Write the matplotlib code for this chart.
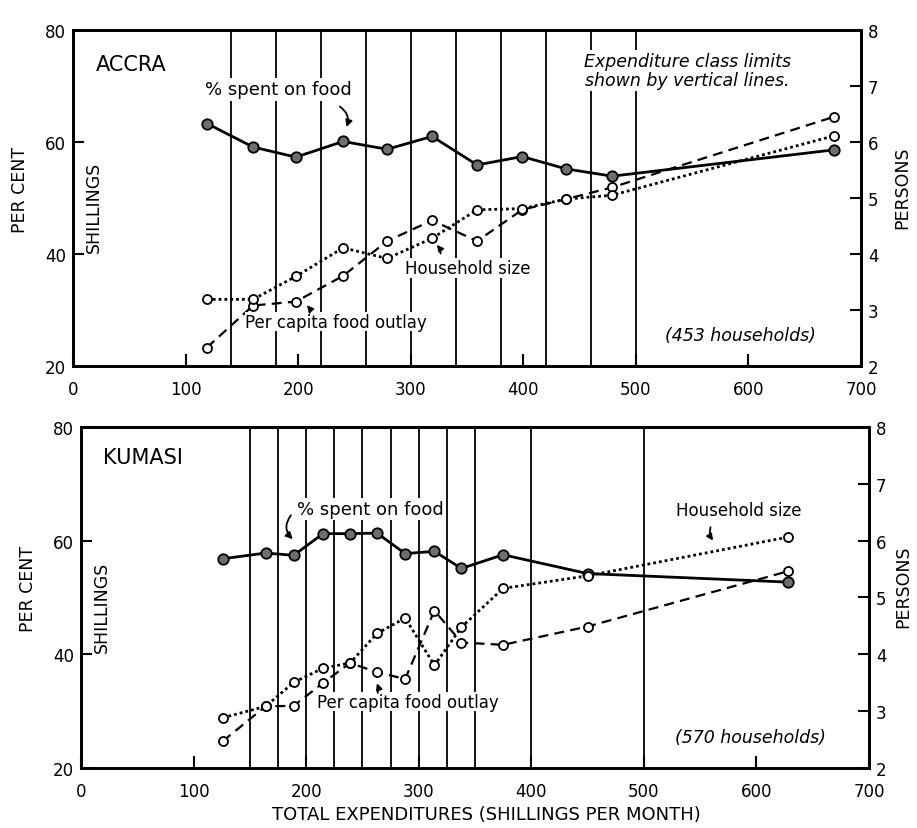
import matplotlib
matplotlib.use("Agg")
import matplotlib.pyplot as plt

# ---------------- data ----------------
accra_x = [119, 160, 198, 240, 279, 319, 359, 399, 438, 479, 676]
accra_food_pct = [63.3, 59.1, 57.3, 60.1, 58.7, 61.0, 55.9, 57.4, 55.2, 53.9, 58.6]
accra_household = [3.19, 3.19, 3.60, 4.11, 3.92, 4.28, 4.79, 4.81, 4.98, 5.05, 6.11]
accra_percap = [23.3, 30.8, 31.5, 36.1, 42.3, 46.0, 42.3, 47.9, 49.8, 51.9, 64.5]
accra_limits = [140, 180, 220, 260, 300, 340, 380, 420, 460, 500]

kumasi_x = [126, 164, 189, 215, 239, 263, 288, 314, 338, 375, 450, 628]
kumasi_food_pct = [56.8, 57.8, 57.4, 61.2, 61.2, 61.3, 57.7, 58.1, 55.1, 57.5, 54.2, 52.7]
kumasi_household = [2.89, 3.09, 3.51, 3.76, 3.85, 4.37, 4.64, 3.81, 4.48, 5.16, 5.38, 6.06]
kumasi_percap = [24.8, 30.9, 31.0, 35.0, 38.5, 36.9, 35.7, 47.7, 42.1, 41.7, 44.9, 54.6]
kumasi_limits = [150, 175, 200, 225, 250, 275, 300, 325, 350, 400, 500]

x_ticks = [0, 100, 200, 300, 400, 500, 600, 700]
left_ticks = [20, 40, 60, 80]
right_ticks = [2, 3, 4, 5, 6, 7, 8]

plt.rcParams['font.family'] = ['DejaVu Sans']

fig = plt.figure(figsize=(9.17, 8.29), dpi=100)
ax1 = fig.add_axes([0.0796, 0.5573, 0.8593, 0.4053])
ax2 = fig.add_axes([0.0883, 0.0718, 0.8593, 0.4125])

WB = dict(facecolor='white', edgecolor='none', pad=1.5)


def setup(ax, x, food, hh, pc, limits):
    ax.set_xlim(0, 700)
    ax.set_ylim(20, 80)
    axr = ax.twinx()
    axr.set_ylim(2, 8)
    for sp in list(ax.spines.values()) + list(axr.spines.values()):
        sp.set_linewidth(2.0)
    for v in limits:
        ax.axvline(v, color='black', lw=1.3, zorder=1)
    ax.plot(x, food, '-', color='black', lw=2.0, marker='o', ms=7.5,
            mfc='#6e6e6e', mec='black', mew=1.3, zorder=5)
    ax.plot(x, pc, linestyle=(0, (4.5, 2.8)), color='black', lw=1.6,
            marker='o', ms=6.5, mfc='white', mec='black', mew=1.3, zorder=4)
    axr.plot(x, hh, linestyle=(0, (1, 1.1)), color='black', lw=2.0,
             marker='o', ms=6.5, mfc='white', mec='black', mew=1.3, zorder=4)
    ax.set_xticks(x_ticks)
    ax.set_yticks(left_ticks)
    axr.set_yticks(right_ticks)
    ax.tick_params(axis='x', direction='in', length=9, width=1.5,
                   labelsize=12, pad=10)
    ax.tick_params(axis='y', direction='in', length=8, width=1.5,
                   labelsize=12, pad=5)
    axr.tick_params(axis='y', direction='in', length=8, width=1.5,
                    labelsize=12, pad=5)
    ax.text(-0.067, 0.527, 'PER CENT', transform=ax.transAxes, rotation=90,
            ha='center', va='center', fontsize=12.5)
    ax.text(0.027, 0.474, 'SHILLINGS', transform=ax.transAxes, rotation=90,
            ha='center', va='center', fontsize=12.5, zorder=6)
    return axr


setup(ax1, accra_x, accra_food_pct, accra_household, accra_percap, accra_limits)
setup(ax2, kumasi_x, kumasi_food_pct, kumasi_household, kumasi_percap, kumasi_limits)

ax1.text(1.052, 0.533, 'PERSONS', transform=ax1.transAxes, rotation=90,
         ha='center', va='center', fontsize=12.5)
ax2.text(1.043, 0.533, 'PERSONS', transform=ax2.transAxes, rotation=90,
         ha='center', va='center', fontsize=12.5)

# ---------------- Accra annotations ----------------
ax1.text(20, 74, 'ACCRA', fontsize=15, ha='left', va='center', zorder=6)
ax1.text(117, 69.4, '% spent on food', fontsize=13, ha='left', va='center',
         bbox=WB, zorder=6)
ax1.annotate('', xy=(242, 62.2), xytext=(235, 66.6),
             arrowprops=dict(arrowstyle='-|>', lw=1.3, color='black',
                             mutation_scale=10,
                             connectionstyle='arc3,rad=-0.45'), zorder=6)
ax1.text(546, 72.8, 'Expenditure class limits\nshown by vertical lines.',
         fontsize=12.5, style='italic', ha='center', va='center',
         linespacing=1.1, bbox=WB, zorder=6)
ax1.text(295, 37.5, 'Household size', fontsize=12, ha='left', va='center',
         bbox=dict(facecolor='white', edgecolor='none', pad=0.5), zorder=6)
ax1.annotate('', xy=(321.5, 42.0), xytext=(327, 39.6),
             arrowprops=dict(arrowstyle='-|>', lw=1.3, color='black',
                             mutation_scale=9,
                             connectionstyle='arc3,rad=0.2'), zorder=6)
ax1.text(153, 27.9, 'Per capita food outlay', fontsize=12, ha='left',
         va='center', bbox=dict(facecolor='white', edgecolor='none', pad=0.5),
         zorder=6)
ax1.annotate('', xy=(206, 31.2), xytext=(210, 29.0),
             arrowprops=dict(arrowstyle='-|>', lw=1.3, color='black',
                             mutation_scale=9,
                             connectionstyle='arc3,rad=0.3'), zorder=6)
ax1.text(593, 25.6, '(453 households)', fontsize=12.5, style='italic',
         ha='center', va='center', zorder=6)

# ---------------- Kumasi annotations ----------------
ax2.text(20, 74.7, 'KUMASI', fontsize=15, ha='left', va='center', zorder=6)
ax2.text(192, 65.5, '% spent on food', fontsize=13, ha='left', va='center',
         bbox=WB, zorder=6)
ax2.annotate('', xy=(190, 59.9), xytext=(188, 64.8),
             arrowprops=dict(arrowstyle='-|>', lw=1.3, color='black',
                             mutation_scale=10,
                             connectionstyle='arc3,rad=0.5'), zorder=6)
ax2.text(529, 65.4, 'Household size', fontsize=12, ha='left', va='center',
         bbox=dict(facecolor='white', edgecolor='none', pad=0.5), zorder=6)
ax2.annotate('', xy=(563, 59.6), xytext=(560, 62.8),
             arrowprops=dict(arrowstyle='-|>', lw=1.3, color='black',
                             mutation_scale=9,
                             connectionstyle='arc3,rad=0.3'), zorder=6)
ax2.text(210, 31.7, 'Per capita food outlay', fontsize=12, ha='left',
         va='center', bbox=dict(facecolor='white', edgecolor='none', pad=0.5),
         zorder=6)
ax2.annotate('', xy=(262, 35.4), xytext=(263, 32.8),
             arrowprops=dict(arrowstyle='-|>', lw=1.3, color='black',
                             mutation_scale=9,
                             connectionstyle='arc3,rad=0.2'), zorder=6)
ax2.text(595, 25.5, '(570 households)', fontsize=12.5, style='italic',
         ha='center', va='center', zorder=6)

fig.text(0.530, 0.017, 'TOTAL EXPENDITURES (SHILLINGS PER MONTH)',
         fontsize=13, ha='center', va='center')

fig.savefig('out.png', dpi=100, facecolor='white')
